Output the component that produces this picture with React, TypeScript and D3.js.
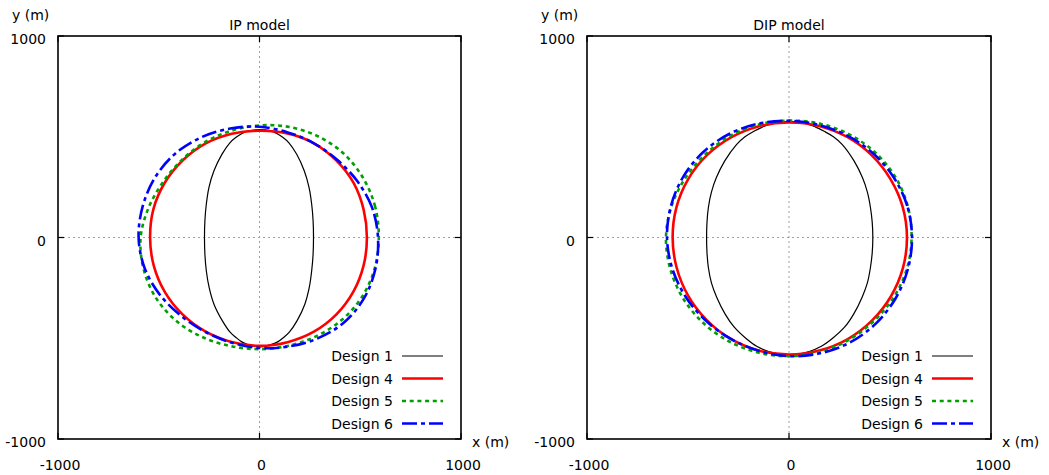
import React from "react";
import * as d3 from "d3";

type Pt = [number, number];

const tickValues = [-1000, 0, 1000];
const tickLabels = ["-1000", "0", "1000"];
const seriesNames = ["Design 1", "Design 4", "Design 5", "Design 6"];
const panelTitles = ["IP model", "DIP model"];

// polar sampling angles (degrees) for the near-circular designs
const anglesDeg = [0, 15, 30, 45, 60, 75, 90, 105, 120, 135, 150, 165, 180, 195, 210, 225, 240, 255, 270, 285, 300, 315, 330, 345];

// IP model — radii (m) read at each angle
const ipDesign4R = [533, 535, 540, 540, 540, 535, 530, 533, 538, 540, 543, 545, 543, 543, 542, 540, 538, 537, 538, 538, 540, 540, 538, 535];
const ipDesign5R = [592, 594, 593, 590, 580, 568, 556, 548, 545, 545, 552, 570, 590, 596, 595, 585, 570, 558, 554, 556, 565, 578, 588, 592];
const ipDesign6R = [588, 578, 560, 545, 540, 540, 550, 560, 575, 590, 598, 600, 600, 590, 570, 550, 540, 540, 548, 560, 578, 595, 600, 596];
// IP model — Design 1 outline (x, y in m)
const ipDesign1: Pt[] = [[268,0],[266,83],[259,165],[246,248],[222,331],[184,414],[146,470],[117,496],[88,515],[56,529],[0,535],[-56,529],[-89,515],[-118,496],[-147,470],[-186,414],[-226,331],[-251,248],[-264,165],[-271,83],[-273,0],[-271,-83],[-264,-165],[-250,-248],[-226,-331],[-184,-414],[-146,-470],[-117,-496],[-88,-518],[-56,-532],[0,-543],[56,-532],[90,-518],[120,-496],[148,-470],[186,-414],[225,-331],[247,-248],[259,-165],[266,-83]];

// DIP model — radii (m) read at each angle
const dipDesign4R = [584, 583, 580, 578, 576, 573, 571, 572, 574, 576, 577, 577, 576, 576, 577, 578, 580, 581, 581, 581, 582, 582, 583, 584];
const dipDesign5R = [607, 608, 606, 600, 592, 585, 580, 580, 582, 585, 592, 602, 609, 608, 605, 600, 595, 591, 589, 588, 588, 590, 597, 604];
const dipDesign6R = [609, 606, 598, 590, 582, 578, 579, 585, 593, 600, 604, 605, 604, 598, 590, 583, 580, 582, 589, 595, 602, 606, 608, 609];
// DIP model — Design 1 outline (x, y in m)
const dipDesign1: Pt[] = [[415,0],[412,75],[403,150],[388,225],[364,296],[322,380],[264,461],[220,500],[174,527],[132,548],[93,563],[0,577],[-93,563],[-132,548],[-174,527],[-218,500],[-260,461],[-318,380],[-360,296],[-384,225],[-399,150],[-406,75],[-408,0],[-406,-75],[-399,-150],[-384,-225],[-358,-296],[-316,-380],[-272,-444],[-214,-500],[-160,-540],[-100,-566],[0,-584],[100,-566],[160,-540],[216,-500],[276,-444],[320,-380],[362,-296],[388,-225],[403,-150],[412,-75]];

const toPts = (radii: number[]): Pt[] =>
  radii.map((r, i) => {
    const a = (anglesDeg[i] * Math.PI) / 180;
    return [r * Math.cos(a), r * Math.sin(a)] as Pt;
  });

const ipSeries = [ipDesign1, toPts(ipDesign4R), toPts(ipDesign5R), toPts(ipDesign6R)];
const dipSeries = [dipDesign1, toPts(dipDesign4R), toPts(dipDesign5R), toPts(dipDesign6R)];

const styles = [
  { stroke: "#000000", width: 1.2, dash: undefined as string | undefined },
  { stroke: "#ff0000", width: 2.6, dash: undefined },
  { stroke: "#00a000", width: 2.6, dash: "4 3.7" },
  { stroke: "#0000ff", width: 2.6, dash: "15 4 4 4" },
];

const FONT = "'DejaVu Sans', Verdana, sans-serif";

function Panel({ x0, x1, y0, y1, title, series }: { x0: number; x1: number; y0: number; y1: number; title: string; series: Pt[][] }) {
  const x = d3.scaleLinear().domain([-1000, 1000]).range([x0, x1]);
  const y = d3.scaleLinear().domain([-1000, 1000]).range([y1, y0]);
  const line = d3
    .line<Pt>()
    .x((d) => x(d[0]))
    .y((d) => y(d[1]))
    .curve(d3.curveCatmullRomClosed.alpha(0.5));
  const tl = 6;
  const legX1 = x1 - 59;
  const legX2 = x1 - 18;
  const legY0 = y1 - 83;
  const legDy = 22.5;
  return (
    <g>
      <line x1={x(0)} x2={x(0)} y1={y0} y2={y1} stroke="#a0a0a0" strokeWidth={1} strokeDasharray="2 3" />
      <line x1={x0} x2={x1} y1={y(0)} y2={y(0)} stroke="#a0a0a0" strokeWidth={1} strokeDasharray="2 3" />
      {series.map((s, i) => (
        <path key={i} d={line(s) || ""} fill="none" stroke={styles[i].stroke} strokeWidth={styles[i].width} strokeDasharray={styles[i].dash} />
      ))}
      {tickValues.map((v, i) => (
        <g key={"t" + i}>
          <line x1={x(v)} x2={x(v)} y1={y1} y2={y1 - tl} stroke="#000" strokeWidth={1.2} />
          <line x1={x(v)} x2={x(v)} y1={y0} y2={y0 + tl} stroke="#000" strokeWidth={1.2} />
          <line x1={x0} x2={x0 + tl} y1={y(v)} y2={y(v)} stroke="#000" strokeWidth={1.2} />
          <line x1={x1} x2={x1 - tl} y1={y(v)} y2={y(v)} stroke="#000" strokeWidth={1.2} />
          <text x={x(v) + 2} y={y1 + 31} textAnchor="middle" fontSize={14} fontFamily={FONT}>{tickLabels[i]}</text>
          <text x={x0 - 12} y={y(v) + 8} textAnchor="end" fontSize={14} fontFamily={FONT}>{tickLabels[i]}</text>
        </g>
      ))}
      <rect x={x0} y={y0} width={x1 - x0} height={y1 - y0} fill="none" stroke="#000" strokeWidth={1.6} />
      <text x={(x0 + x1) / 2} y={y0 - 6} textAnchor="middle" fontSize={14} fontFamily={FONT}>{title}</text>
      <text x={x0 - 46} y={y0 - 16} fontSize={14} fontFamily={FONT}>y (m)</text>
      <text x={x1 + 11} y={y1 + 8} fontSize={14} fontFamily={FONT}>x (m)</text>
      {seriesNames.map((n, i) => (
        <g key={"l" + i}>
          <text x={legX1 - 9} y={legY0 + i * legDy + 5} textAnchor="end" fontSize={14} fontFamily={FONT}>{n}</text>
          <line x1={legX1} x2={legX2} y1={legY0 + i * legDy} y2={legY0 + i * legDy} stroke={styles[i].stroke} strokeWidth={styles[i].width} strokeDasharray={styles[i].dash} />
        </g>
      ))}
    </g>
  );
}

export default function App() {
  return (
    <svg width={1049} height={475} style={{ position: "absolute", left: 0, top: 0, background: "#fff" }}>
      <rect width={1049} height={475} fill="#fff" />
      <Panel x0={58} x1={461} y0={36} y1={439} title={panelTitles[0]} series={ipSeries} />
      <Panel x0={587} x1={991} y0={36} y1={439} title={panelTitles[1]} series={dipSeries} />
    </svg>
  );
}
